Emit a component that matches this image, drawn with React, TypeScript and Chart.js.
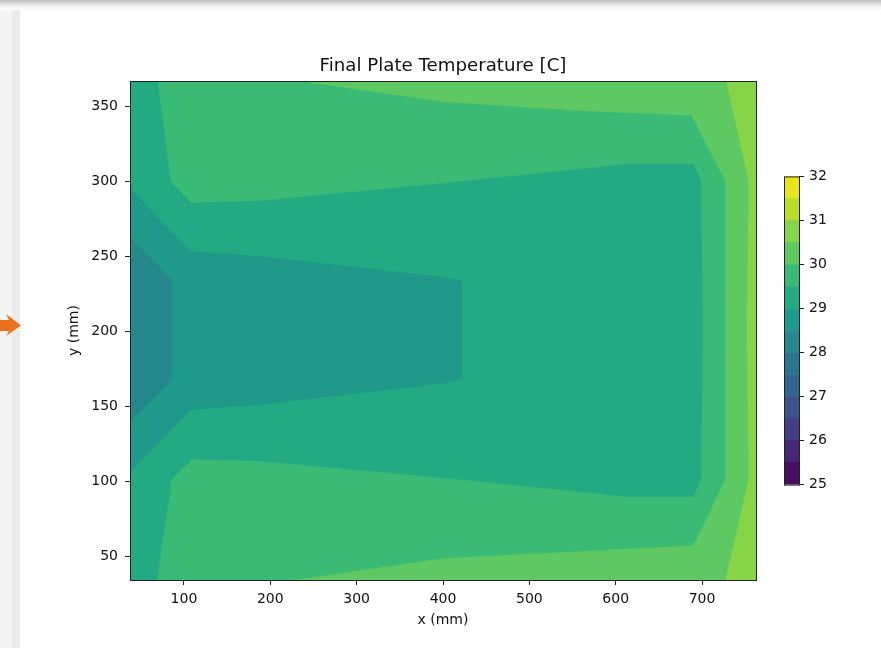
import React, { useEffect, useRef } from "react";
import { Chart, registerables } from "chart.js";

Chart.register(...registerables);

const FONT = "'DejaVu Sans', 'Liberation Sans', sans-serif";

const titleText = "Final Plate Temperature [C]";
const xLabel = "x (mm)";
const yLabel = "y (mm)";

const xTicks = [100, 200, 300, 400, 500, 600, 700];
const yTicks = [50, 100, 150, 200, 250, 300, 350];
const xExtent = [37.5, 762.5];
const yExtent = [34, 367];

const levels = [25, 25.5, 26, 26.5, 27, 27.5, 28, 28.5, 29, 29.5, 30, 30.5, 31, 31.5, 32];
const colorbarTicks = [25, 26, 27, 28, 29, 30, 31, 32];
const bandColors = [
  "#460e60", "#482677", "#433d84", "#3b528b", "#32658d", "#2b768e", "#24888d",
  "#1f998a", "#24aa83", "#3bba75", "#5ec962", "#88d448", "#b8de29", "#e8e41c",
];

// Filled contour regions (x, y in mm).
// Band 30.0 - 30.5 (upper / right / lower warm rim)
const region30: [number, number][] = [
  [232, 367], [402, 353], [509, 349], [563, 347], [688, 344], [727, 300],
  [727, 101], [690, 57], [402, 48.5], [227, 34], [762.5, 34], [762.5, 367],
];
// Band 30.5 - 31.0 (right edge strip)
const region305: [number, number][] = [
  [728, 367], [754, 300], [752, 200], [754, 101], [727, 34], [762.5, 34], [762.5, 367],
];
// Band 29.0 - 29.5 (left strip + core)
const region29: [number, number][] = [
  [37.5, 367], [69.6, 367], [85, 300], [108, 286], [186, 287], [402, 299],
  [613, 311.6], [690, 311.6], [699, 301], [701, 200], [699, 101], [690, 89.6],
  [613, 89.6], [402, 102], [186, 113.4], [109, 114.5], [86, 101], [69, 34], [37.5, 34],
];
// Band 28.5 - 29.0 (funnel)
const region285: [number, number][] = [
  [37.5, 295.6], [108, 253.4], [186, 250.2], [402, 236], [422, 233.7],
  [422, 168.6], [402, 165.3], [186, 150.8], [108, 147.4], [37.5, 106.3],
];
// Band 28.0 - 28.5 (coolest pocket at the left edge)
const region28: [number, number][] = [
  [37.5, 262.7], [86, 234.4], [86, 167.5], [37.5, 139.6],
];
// Background band 29.5 - 30.0 covers the whole plate
const regionBase: [number, number][] = [
  [xExtent[0], yExtent[0]], [xExtent[1], yExtent[0]], [xExtent[1], yExtent[1]], [xExtent[0], yExtent[1]],
];

// painting order: bottom to top
const bands: { lo: number; pts: [number, number][] }[] = [
  { lo: 29.5, pts: regionBase },
  { lo: 30, pts: region30 },
  { lo: 30.5, pts: region305 },
  { lo: 29, pts: region29 },
  { lo: 28.5, pts: region285 },
  { lo: 28, pts: region28 },
];

const frameColor = "#222";
const textColor = "#111";

const framePlugin = {
  id: "frame",
  afterDatasetsDraw(chart: any) {
    const { ctx, chartArea: a } = chart;
    ctx.save();
    ctx.strokeStyle = frameColor;
    ctx.lineWidth = 1;
    ctx.strokeRect(a.left + 0.5, a.top + 0.5, a.right - a.left, a.bottom - a.top);
    ctx.restore();
  },
};

function MainChart() {
  const ref = useRef<HTMLCanvasElement>(null);
  useEffect(() => {
    if (!ref.current) return;
    const n = bands.length;
    const chart = new Chart(ref.current, {
      type: "line",
      data: {
        datasets: bands.map((b, i) => ({
          data: b.pts.map(([x, y]) => ({ x, y })),
          backgroundColor: bandColors[levels.indexOf(b.lo)],
          borderColor: "rgba(0,0,0,0)",
          borderWidth: 0,
          pointRadius: 0,
          pointHitRadius: 0,
          tension: 0,
          fill: "shape",
          order: n - i,
        })),
      } as any,
      options: {
        responsive: false,
        animation: false,
        events: [],
        layout: { padding: { left: 0, right: 125, top: 0, bottom: 0 } },
        plugins: {
          legend: { display: false },
          tooltip: { enabled: false },
          title: {
            display: true,
            text: titleText,
            fullSize: false,
            color: textColor,
            font: { family: FONT, size: 18.2, weight: "normal" },
            padding: { top: 55.3, bottom: 3.86 },
          },
        },
        scales: {
          x: {
            type: "linear",
            min: xExtent[0],
            max: xExtent[1],
            afterBuildTicks: (s: any) => {
              s.ticks = xTicks.map((v) => ({ value: v }));
            },
            afterFit: (s: any) => {
              s.height = 68;
            },
            ticks: { color: textColor, font: { family: FONT, size: 14 }, padding: 5.5, maxRotation: 0 },
            grid: { drawOnChartArea: false, drawTicks: true, tickLength: 5, color: frameColor },
            border: { display: false },
            title: {
              display: true,
              text: xLabel,
              color: textColor,
              font: { family: FONT, size: 14 },
              padding: { top: 0, bottom: 19.6 },
            },
          },
          y: {
            type: "linear",
            min: yExtent[0],
            max: yExtent[1],
            afterBuildTicks: (s: any) => {
              s.ticks = yTicks.map((v) => ({ value: v }));
            },
            afterFit: (s: any) => {
              s.width = 130;
            },
            ticks: { color: textColor, font: { family: FONT, size: 14 }, padding: 7 },
            grid: { drawOnChartArea: false, drawTicks: true, tickLength: 5, color: frameColor },
            border: { display: false },
            title: {
              display: true,
              text: yLabel,
              color: textColor,
              font: { family: FONT, size: 14 },
              padding: { top: 65.6, bottom: 0 },
            },
          },
        },
      } as any,
      plugins: [framePlugin],
    });
    return () => chart.destroy();
  }, []);
  return (
    <canvas
      ref={ref}
      width={881}
      height={648}
      style={{ position: "absolute", left: 0, top: 0, width: 881, height: 648 }}
    />
  );
}

function ColorBar() {
  const ref = useRef<HTMLCanvasElement>(null);
  useEffect(() => {
    if (!ref.current) return;
    const chart = new Chart(ref.current, {
      type: "bar",
      data: {
        labels: [""],
        datasets: bandColors.map((c, i) => ({
          data: [[levels[i], levels[i + 1]]],
          backgroundColor: c,
          borderWidth: 0,
          grouped: false,
          barPercentage: 1,
          categoryPercentage: 1,
        })),
      } as any,
      options: {
        responsive: false,
        animation: false,
        events: [],
        layout: { padding: { left: 0, right: 0, top: 7, bottom: 7 } },
        plugins: { legend: { display: false }, tooltip: { enabled: false }, title: { display: false } },
        scales: {
          x: { display: false },
          y: {
            position: "right",
            min: levels[0],
            max: levels[levels.length - 1],
            afterBuildTicks: (s: any) => {
              s.ticks = colorbarTicks.map((v) => ({ value: v }));
            },
            afterFit: (s: any) => {
              s.width = 45;
            },
            ticks: { color: textColor, font: { family: FONT, size: 14 }, padding: 5 },
            grid: { drawOnChartArea: false, drawTicks: true, tickLength: 5, color: frameColor },
            border: { display: false },
          },
        },
      } as any,
      plugins: [framePlugin],
    });
    return () => chart.destroy();
  }, []);
  return (
    <canvas
      ref={ref}
      width={60}
      height={335}
      style={{ position: "absolute", left: 784, top: 163, width: 60, height: 335 }}
    />
  );
}

export default function App() {
  return (
    <div
      style={{
        position: "absolute",
        left: 0,
        top: 0,
        width: 881,
        height: 648,
        background: "#fff",
        overflow: "hidden",
      }}
    >
      <div
        style={{
          position: "absolute",
          left: 0,
          top: 0,
          width: 881,
          height: 10,
          background: "linear-gradient(to bottom, #bcbcbc 0%, #dadada 35%, #f6f6f6 75%, #ffffff 100%)",
        }}
      />
      <div
        style={{
          position: "absolute",
          left: 0,
          top: 10,
          width: 20,
          height: 638,
          background: "linear-gradient(to right, #f4f4f4 0px, #f4f4f4 12px, #ebebeb 12px, #ebebeb 20px)",
        }}
      />
      <svg
        width={24}
        height={30}
        style={{ position: "absolute", left: 0, top: 312 }}
        viewBox="0 0 24 30"
      >
        <polygon points="0,8 9,8 6,2 21,13.5 6,24 9,19 0,19" fill="#e8731c" />
      </svg>
      <MainChart />
      <ColorBar />
    </div>
  );
}
